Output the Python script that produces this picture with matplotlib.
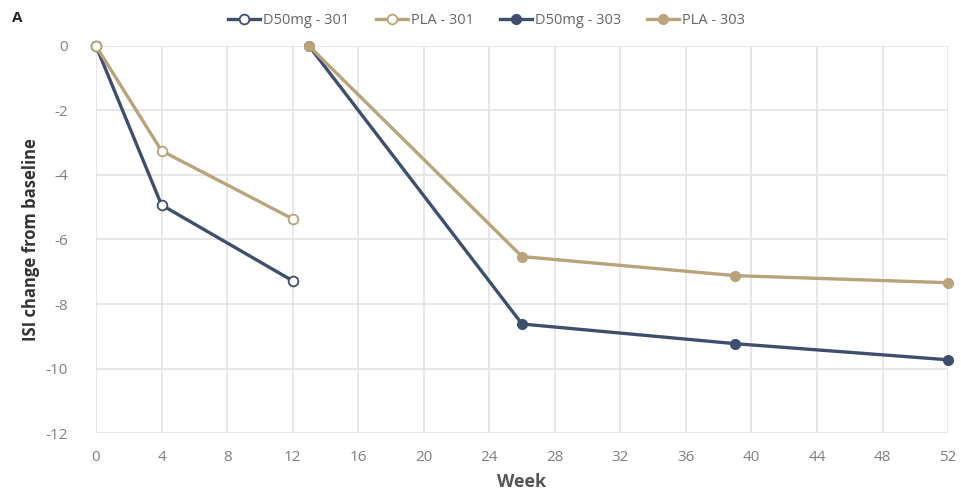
import matplotlib
matplotlib.use("Agg")
import matplotlib.pyplot as plt

plt.rcParams['font.family'] = ['Open Sans', 'DejaVu Sans']
plt.rcParams['axes.unicode_minus'] = False

weeks_301 = [0, 4, 12]
d50_301 = [0, -4.93, -7.28]
pla_301 = [0, -3.25, -5.36]

weeks_303 = [13, 26, 39, 52]
d50_303 = [0, -8.62, -9.23, -9.73]
pla_303 = [0, -6.53, -7.12, -7.34]

x_ticks = list(range(0, 53, 4))
y_ticks = list(range(-12, 1, 2))

blue = '#3e4f6d'
tan = '#b9a37c'
grid_c = '#e3e3e3'
tick_c = '#7f7f7f'

fig = plt.figure(figsize=(9.62, 4.93), dpi=100)
ax = fig.add_axes([0.0998, 0.1217, 0.8857, 0.785])

ax.plot(weeks_301, d50_301, '-o', color=blue, lw=2.4, ms=7,
        mfc='white', mec=blue, mew=1.3, label='D50mg - 301', zorder=3, clip_on=False)
ax.plot(weeks_301, pla_301, '-o', color=tan, lw=2.4, ms=7,
        mfc='white', mec=tan, mew=1.3, label='PLA - 301', zorder=4, clip_on=False)
ax.plot(weeks_303, d50_303, '-o', color=blue, lw=2.4, ms=7,
        mfc=blue, mec=blue, label='D50mg - 303', zorder=3, clip_on=False)
ax.plot(weeks_303, pla_303, '-o', color=tan, lw=2.4, ms=7,
        mfc=tan, mec=tan, label='PLA - 303', zorder=4, clip_on=False)

ax.set_xlim(0, 52)
ax.set_ylim(-12, 0)
ax.set_xticks(x_ticks)
ax.set_yticks(y_ticks)
ax.grid(True, color=grid_c, lw=1.2)
ax.set_axisbelow(True)
for s in ax.spines.values():
    s.set_visible(False)
ax.tick_params(length=0, colors=tick_c, labelsize=11)
ax.tick_params(axis='x', pad=12)
ax.tick_params(axis='y', pad=20)
ax.set_xlabel('Week', fontsize=13, fontweight='bold', color='#555555', labelpad=6)
ax.set_ylabel('ISI change from baseline', fontsize=12, fontweight='bold',
              color='#333333', labelpad=4)

fig.legend(loc='upper center', bbox_to_anchor=(0.506, 1.0), ncol=4,
           frameon=False, fontsize=10.5, labelcolor='#666666',
           handlelength=2.2, handletextpad=0.2, columnspacing=1.8)
fig.text(0.012, 0.955, 'A', fontsize=11, fontweight='bold', color='#222222')

fig.savefig('out.png', dpi=100)
